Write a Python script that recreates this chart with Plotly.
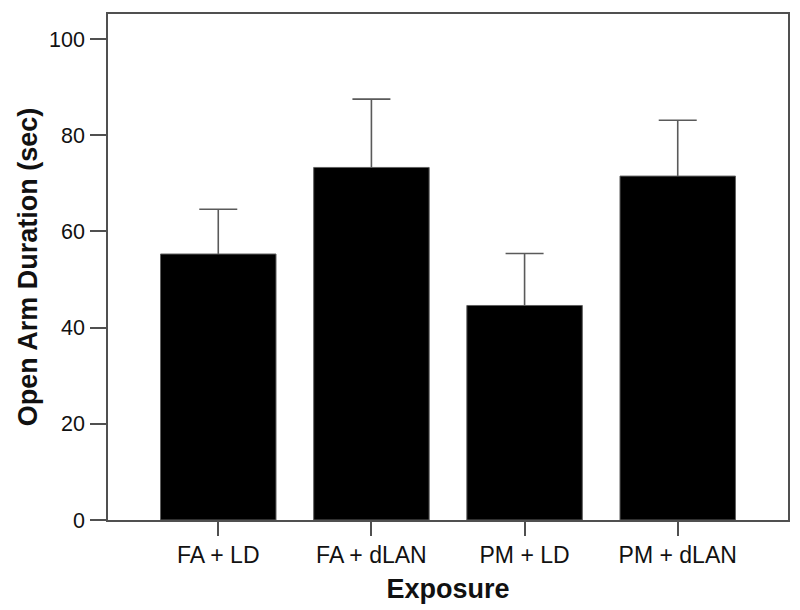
import plotly.graph_objects as go

categories = ["FA + LD", "FA + dLAN", "PM + LD", "PM + dLAN"]
means = [55.3, 73.3, 44.6, 71.5]
errors = [9.3, 14.2, 10.8, 11.6]
y_ticks = [0, 20, 40, 60, 80, 100]

x_pos = list(range(len(categories)))
axis_col = "#505050"
font_family = "Liberation Sans, Arial, Helvetica, sans-serif"

fig = go.Figure()
# error bars (drawn underneath, lower half hidden by bars)
fig.add_trace(go.Bar(
    x=x_pos, y=means, width=0.754,
    marker=dict(color="rgba(0,0,0,0)", line=dict(width=0)),
    error_y=dict(type="data", array=errors, visible=True,
                 color="#5a5a5a", thickness=1.6, width=19),
    showlegend=False, hoverinfo="skip",
))
fig.add_trace(go.Bar(
    x=x_pos, y=means, width=0.754,
    marker=dict(color="black", line=dict(color="#606060", width=1)),
    showlegend=False,
))

fig.update_layout(
    barmode="overlay",
    width=800, height=610,
    margin=dict(l=108, r=12, t=14, b=90),
    plot_bgcolor="white", paper_bgcolor="white",
    font=dict(family=font_family, color="#111111"),
)
fig.update_xaxes(
    range=[-0.72, 3.72], automargin=False,
    tickmode="array", tickvals=x_pos, ticktext=categories,
    ticks="outside", ticklen=14, tickwidth=1.5, tickcolor=axis_col,
    tickfont=dict(size=23, color="#111111"),
    showline=True, linecolor=axis_col, linewidth=1.6, mirror=True,
    showgrid=False, zeroline=False,
    title=dict(text="<b>Exposure</b>", font=dict(size=27, color="#111111"), standoff=12),
)
fig.update_yaxes(
    range=[0, 105.2], automargin=False,
    tickmode="array", tickvals=y_ticks,
    ticks="outside", ticklen=16, tickwidth=1.5, tickcolor=axis_col,
    ticklabelstandoff=1,
    tickfont=dict(size=21.5, color="#111111"),
    showline=True, linecolor=axis_col, linewidth=1.6, mirror=True,
    showgrid=False, zeroline=False,
    title=dict(text="<b>Open Arm Duration (sec)</b>", font=dict(size=27, color="#111111"), standoff=4),
)

fig.write_html(
    "out.html",
    config={"displayModeBar": False},
    post_script="document.body.style.margin='0';document.body.style.overflow='hidden';",
)
